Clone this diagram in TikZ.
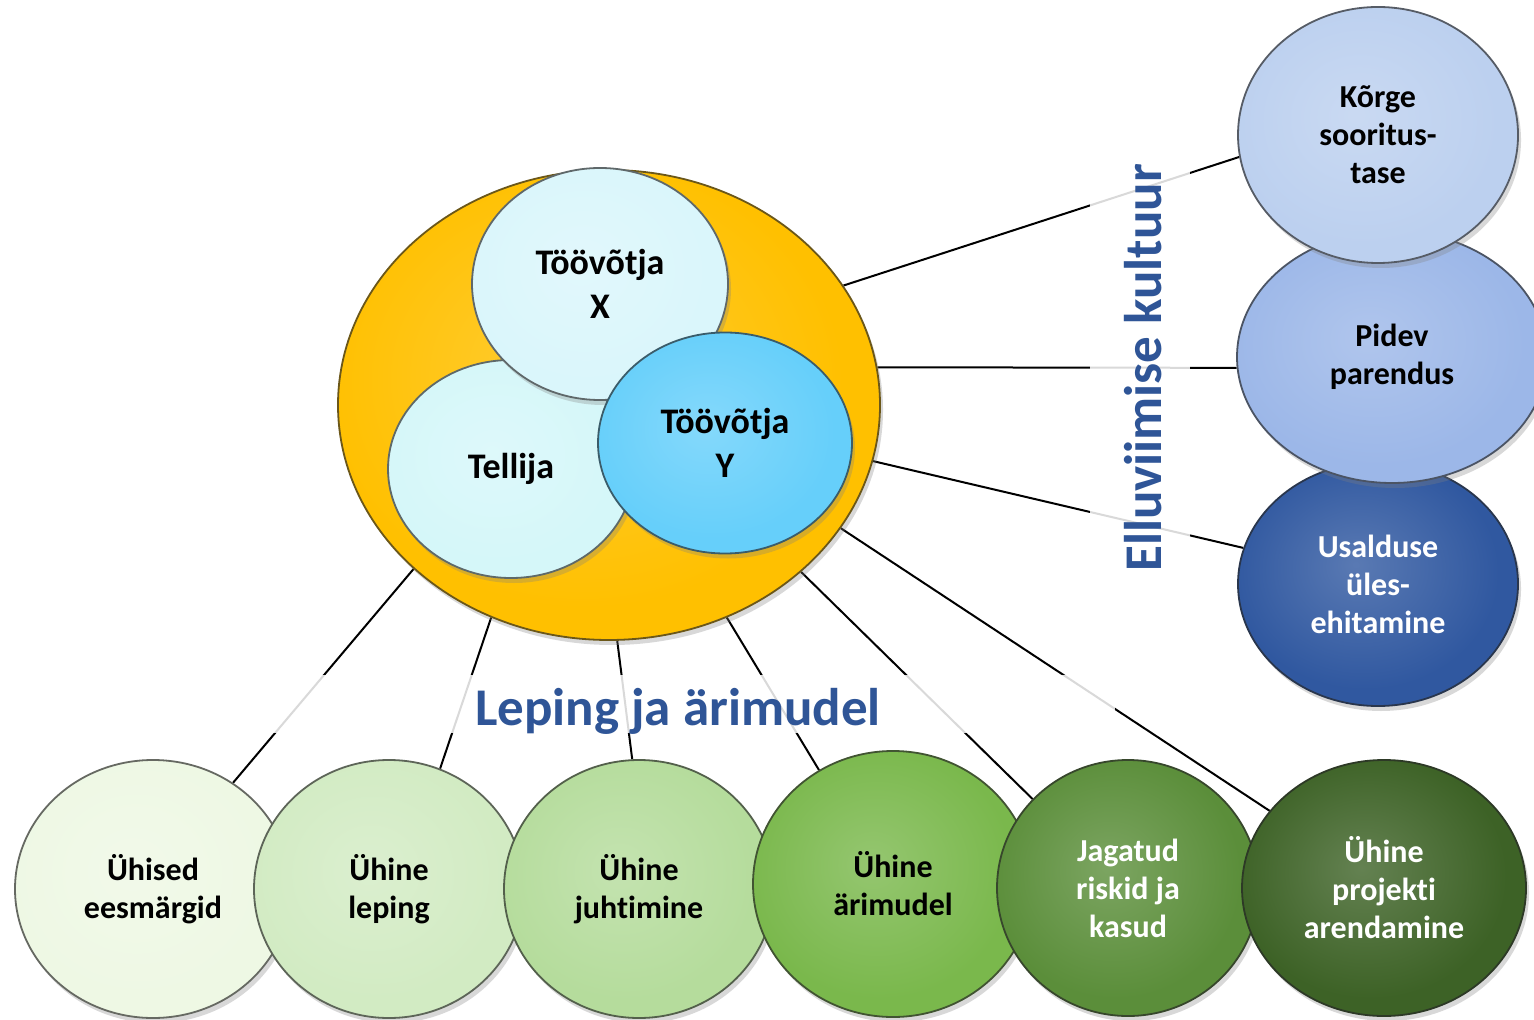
\documentclass[tikz,border=0pt]{standalone}
\usepackage{fontspec}
\setmainfont{Carlito}[Ligatures=NoCommon]
\usetikzlibrary{shapes.geometric,shadows,backgrounds}
\definecolor{cBig}{HTML}{FFC000}
\definecolor{cX}{HTML}{DAF6FB}
\definecolor{cT}{HTML}{D5F7F9}
\definecolor{cY}{HTML}{66CFFA}
\definecolor{cK}{HTML}{BCD0EF}
\definecolor{cP}{HTML}{9CB7E8}
\definecolor{cU}{HTML}{3058A0}
\definecolor{bA}{HTML}{EEF8E4}
\definecolor{bB}{HTML}{D2EBC3}
\definecolor{bC}{HTML}{B5DC9C}
\definecolor{bD}{HTML}{7AB84C}
\definecolor{bE}{HTML}{5B8E3A}
\definecolor{bF}{HTML}{3D6226}
\definecolor{titleblue}{HTML}{2F5597}
\colorlet{bubin}{white}
\colorlet{bubout}{black}
\pgfdeclareradialshading[bubin,bubout]{bubshade}{\pgfpoint{-4bp}{4bp}}{color(0bp)=(bubin!80!white); color(24bp)=(bubin); color(45bp)=(bubin); color(52bp)=(bubout); color(60bp)=(bubout)}
\tikzset{
  bub/.style={ellipse, inner sep=0pt, align=center,
    /utils/exec={\colorlet{bubin}{#1}\colorlet{bubout}{#1!72!black}},
    shade, shading=bubshade,
    draw=#1!40!black!80!gray, line width=0.9pt,
    drop shadow={opacity=0.3, shadow xshift=1.5pt, shadow yshift=-2.5pt}},
  fsmall/.style={font=\bfseries\fontsize{16}{19}\selectfont},
  fbig/.style={font=\bfseries\fontsize{18}{22}\selectfont},
  title/.style={font=\bfseries\fontsize{26.5}{30}\selectfont, text=titleblue, inner sep=0pt},
  conn/.style={draw=black, line width=1pt},
  veil/.style={fill=white, fill opacity=0.85, inner sep=0pt, draw=none}
}
\begin{document}
\begin{tikzpicture}[x=0.5pt,y=-0.5pt]
\useasboundingbox (0,0) rectangle (1534,1020);
% central group
\node[bub=cBig, minimum width=271pt, minimum height=235pt] (big) at (609,405) {};
\node[bub=cT, fbig, minimum width=123pt, minimum height=109pt] (tel) at (511,469) {Tellija};
\node[bub=cX, fbig, minimum width=128pt, minimum height=116pt] (tx) at (600,284) {Töövõtja\\X};
\node[bub=cY, fbig, minimum width=127pt, minimum height=110.5pt] (ty) at (725,443) {Töövõtja\\Y};
% right group
\node[bub=cU, fsmall, text=white, minimum width=140pt, minimum height=122pt] (usa) at (1378,584) {Usalduse\\üles-\\ehitamine};
\node[bub=cP, fsmall, minimum width=155pt, minimum height=126pt] (pid) at (1392,357) {Pidev\\parendus};
\node[bub=cK, fsmall, minimum width=140pt, minimum height=128pt] (kor) at (1378,135) {Kõrge\\sooritus-\\tase};
% bottom group
\node[bub=bA, fsmall, minimum width=138pt, minimum height=129pt] (b1) at (153,889) {Ühised\\eesmärgid};
\node[bub=bB, fsmall, minimum width=135pt, minimum height=129pt] (b2) at (389,889) {Ühine\\leping};
\node[bub=bC, fsmall, minimum width=135pt, minimum height=129pt] (b3) at (639,889) {Ühine\\juhtimine};
\node[bub=bD, fsmall, minimum width=140pt, minimum height=133pt] (b4) at (893,884) {Ühine\\ärimudel};
\node[bub=bE, fsmall, text=white, minimum width=131pt, minimum height=128pt] (b5) at (1128,888) {Jagatud\\riskid ja\\kasud};
\node[bub=bF, fsmall, text=white, minimum width=142pt, minimum height=128pt] (b6) at (1384,888) {Ühine\\projekti\\arendamine};
% titles
\node[title, anchor=base] (t1) at (678,725) {Leping ja ärimudel};
\node[title, rotate=90, anchor=base] (t2) at (1161,368) {Elluviimise kultuur};
\begin{scope}[on background layer]
  \fill[white] (0,0) rectangle (1534,1020);
  \draw[conn] (big.27.7) -- (kor.189.1);
  \draw[conn] (big.8.9) -- (pid.184.5);
  \draw[conn] (big.348.9) -- (usa.165.2);
  \draw[conn] (big.220.2) -- (b1.53.6);
  \draw[conn] (big.241.9) -- (b2.67.2);
  \draw[conn] (big.272.4) -- (b3.93.5);
  \draw[conn] (big.299.3) -- (b4.123.8);
  \draw[conn] (big.319.3) -- (b5.137.6);
  \draw[conn] (big.332.2) -- (b6.146.3);
  \node[veil, minimum width=432.5pt, minimum height=29pt] (hveil) at (682,704) {};
  \node[veil, minimum width=50pt, minimum height=220pt] (vveil) at (1140,370) {};
\end{scope}
\end{tikzpicture}
\end{document}
